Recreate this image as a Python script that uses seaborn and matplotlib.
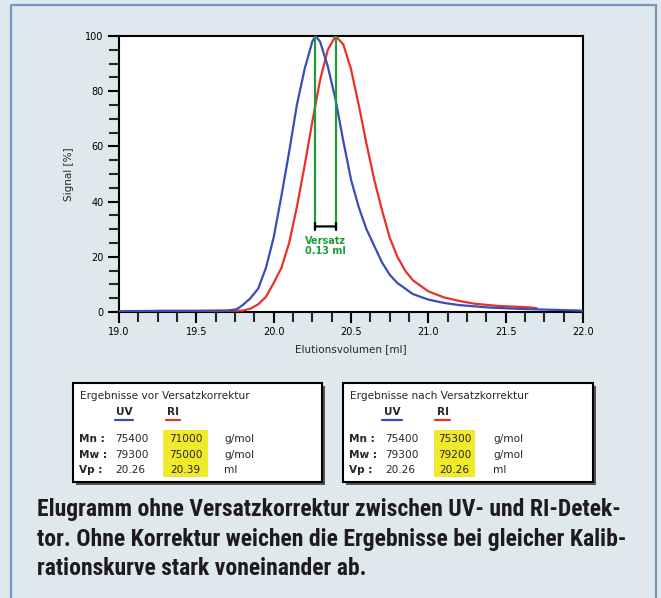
import matplotlib
matplotlib.use("Agg")
import matplotlib.pyplot as plt
from matplotlib.patches import Rectangle
from matplotlib import font_manager
import seaborn as sns
import pandas as pd
import numpy as np

# ---- data ----
uv_x = [19.00, 19.25, 19.50, 19.70, 19.76, 19.80, 19.85, 19.90, 19.95, 20.00, 20.05, 20.10,
        20.15, 20.20, 20.25, 20.27, 20.30, 20.35, 20.40, 20.45, 20.50, 20.55, 20.60, 20.65,
        20.70, 20.75, 20.80, 20.90, 21.00, 21.10, 21.20, 21.40, 21.60, 21.80, 22.00]
uv_y = [0.3, 0.4, 0.4, 0.5, 1.0, 2.5, 5.0, 8.5, 16, 27, 42, 58,
        75, 88, 98, 100, 98, 89, 77, 62, 48, 38, 30, 24,
        18, 13.5, 10.5, 6.5, 4.5, 3.3, 2.5, 1.6, 1.1, 0.8, 0.5]

ri_x = [19.25, 19.50, 19.80, 19.85, 19.90, 19.95, 20.00, 20.05, 20.10, 20.15, 20.20, 20.25,
        20.30, 20.35, 20.40, 20.45, 20.50, 20.55, 20.60, 20.65, 20.70, 20.75, 20.80, 20.85,
        20.90, 21.00, 21.10, 21.20, 21.30, 21.45, 21.65, 21.70]
ri_y = [0.4, 0.4, 0.5, 1.2, 2.8, 5.5, 10.5, 16, 25, 38, 53, 69,
        84, 95, 100, 97, 88, 75, 61, 48, 37, 27, 20, 15,
        11.5, 7.5, 5.3, 4.0, 3.0, 2.2, 1.7, 1.4]

x_ticks = [19.0, 19.5, 20.0, 20.5, 21.0, 21.5, 22.0]
y_ticks = [0, 20, 40, 60, 80, 100]
offset_label = "Versatz\n0.13 ml"
offset_level = 31

box_titles = ["Ergebnisse vor Versatzkorrektur", "Ergebnisse nach Versatzkorrektur"]
row_labels = ["Mn :", "Mw :", "Vp :"]
row_units = ["g/mol", "g/mol", "ml"]
uv_values = [["75400", "79300", "20.26"], ["75400", "79300", "20.26"]]
ri_values = [["71000", "75000", "20.39"], ["75300", "79200", "20.26"]]

caption_lines = ["Elugramm ohne Versatzkorrektur zwischen UV- und RI-Detek-",
                 "tor. Ohne Korrektur weichen die Ergebnisse bei gleicher Kalib-",
                 "rationskurve stark voneinander ab."]

# ---- style ----
sns.set_style("ticks")
plt.rcParams["font.family"] = ["DejaVu Sans"]

W, H = 661, 598
BG = "#dfe8ec"
BLUE = "#3b4cb8"
RED = "#e8312c"
GREEN = "#1f9a3c"

# choose a narrow font for the caption if one is installed
installed = {f.name for f in font_manager.fontManager.ttflist}
cap_kw = dict(family=["DejaVu Sans"], fontstretch="normal")
for cand in ["Liberation Sans Narrow", "Roboto Condensed", "Open Sans Condensed",
             "Noto Sans Display", "DejaVu Sans Condensed"]:
    if cand in installed:
        cap_kw = dict(family=[cand, "DejaVu Sans"], fontstretch="condensed")
        break
else:
    if any(f.name == "DejaVu Sans" and str(f.stretch) in ("condensed", "semi-condensed")
           for f in font_manager.fontManager.ttflist):
        cap_kw = dict(family=["DejaVu Sans"], fontstretch="condensed")

fig = plt.figure(figsize=(W / 100, H / 100), dpi=100)
fig.patch.set_facecolor(BG)

# pixel-coordinate overlay for frame, boxes and caption
ov = fig.add_axes([0, 0, 1, 1], zorder=0)
ov.set_xlim(0, W)
ov.set_ylim(H, 0)
ov.axis("off")
ov.add_patch(Rectangle((11, 5), 645, 600, fill=False, edgecolor="#7597bb", lw=1.6))

# ---- main chart ----
ax = fig.add_axes([119 / W, 1 - 312 / H, (583 - 119) / W, (312 - 36) / H], zorder=2)
ax.set_facecolor("white")

df_uv = pd.DataFrame({"x": uv_x, "y": uv_y})
df_ri = pd.DataFrame({"x": ri_x, "y": ri_y})
sns.lineplot(data=df_ri, x="x", y="y", ax=ax, color=RED, lw=1.6, zorder=3)
sns.lineplot(data=df_uv, x="x", y="y", ax=ax, color=BLUE, lw=1.6, zorder=4)

x_uv_peak = uv_x[int(np.argmax(uv_y))]
x_ri_peak = ri_x[int(np.argmax(ri_y))]
for xp in (x_uv_peak, x_ri_peak):
    ax.plot([xp, xp], [offset_level - 1, 100], color=GREEN, lw=1.6, zorder=5)
ax.annotate("", xy=(x_uv_peak, offset_level), xytext=(x_ri_peak, offset_level),
            arrowprops=dict(arrowstyle="|-|,widthA=0.25,widthB=0.25", color="black", lw=1.6,
                            shrinkA=0, shrinkB=0), zorder=6)
ax.text((x_uv_peak + x_ri_peak) / 2, offset_level - 3.5, offset_label, color=GREEN,
        fontsize=7, fontweight="bold", ha="center", va="top", linespacing=1.0, zorder=6)

ax.set_xlim(19.0, 22.0)
ax.set_ylim(0, 100)
ax.set_xticks(x_ticks)
ax.set_xticklabels([f"{v:.1f}" for v in x_ticks])
ax.set_yticks(y_ticks)
ax.set_yticklabels([str(v) for v in y_ticks])
ax.set_xticks(np.arange(19.0, 22.0001, 0.125), minor=True)
ax.set_yticks(np.arange(0, 100.001, 5), minor=True)
ax.tick_params(axis="both", which="major", length=8, width=1.5, labelsize=7,
               colors="black", direction="out", pad=3)
ax.tick_params(axis="both", which="minor", length=7, width=1.5, direction="out")
ax.set_xlabel("Elutionsvolumen [ml]", fontsize=7.5, labelpad=5)
ax.set_ylabel("Signal [%]", fontsize=7.5, labelpad=8)
for s in ax.spines.values():
    s.set_visible(True)
    s.set_color("black")
    s.set_linewidth(1.5)

# ---- result boxes ----
FS = 7.6
boxes = [(73, 322), (343, 593)]
col_uv_x = [(115, 133), (382, 402)]
col_ri_x = [(166, 180), (435, 450)]
yellow_x = [(163, 208), (434, 475)]
unit_x = [224, 493]
top, bottom = 383, 482
row_y = [439, 455, 470]
for i, (x0, x1) in enumerate(boxes):
    ov.add_patch(Rectangle((x0 + 3, top + 3), x1 - x0, bottom - top, facecolor="#555555",
                           edgecolor="none"))
    ov.add_patch(Rectangle((x0, top), x1 - x0, bottom - top, facecolor="white",
                           edgecolor="black", lw=1.5))
    ov.text(x0 + 7, 396, box_titles[i], fontsize=FS, va="center", ha="left")
    ux0, ux1 = col_uv_x[i]
    rx0, rx1 = col_ri_x[i]
    ov.text((ux0 + ux1) / 2, 412, "UV", fontsize=FS, fontweight="bold", ha="center", va="center")
    ov.plot([ux0, ux1], [420, 420], color=BLUE, lw=1.6)
    ov.text((rx0 + rx1) / 2, 412, "RI", fontsize=FS, fontweight="bold", ha="center", va="center")
    ov.plot([rx0, rx1], [420, 420], color=RED, lw=1.6)
    yx0, yx1 = yellow_x[i]
    ov.add_patch(Rectangle((yx0, 430), yx1 - yx0, 47, facecolor="#f0ea2a", edgecolor="none"))
    for j, ry in enumerate(row_y):
        ov.text(x0 + 6, ry, row_labels[j], fontsize=FS, fontweight="bold", va="center")
        ov.text(x0 + 42, ry, uv_values[i][j], fontsize=FS, va="center")
        ov.text((yx0 + yx1) / 2, ry, ri_values[i][j], fontsize=FS, va="center", ha="center")
        ov.text(unit_x[i], ry, row_units[j], fontsize=FS, va="center")

# ---- caption: fit the widest line to the reference width ----
cap_texts = []
baselines = [516, 546, 575]
for line, yb in zip(caption_lines, baselines):
    t = ov.text(37, yb, line, fontsize=14, fontweight="bold", color="#1f1b1c",
                va="baseline", ha="left", **cap_kw)
    cap_texts.append(t)
fig.canvas.draw()
renderer = fig.canvas.get_renderer()
widest = max(t.get_window_extent(renderer).width for t in cap_texts)
target = 592.0
new_size = 14 * target / widest
for t in cap_texts:
    t.set_fontsize(new_size)

fig.savefig("out.png", dpi=100, facecolor=BG)
